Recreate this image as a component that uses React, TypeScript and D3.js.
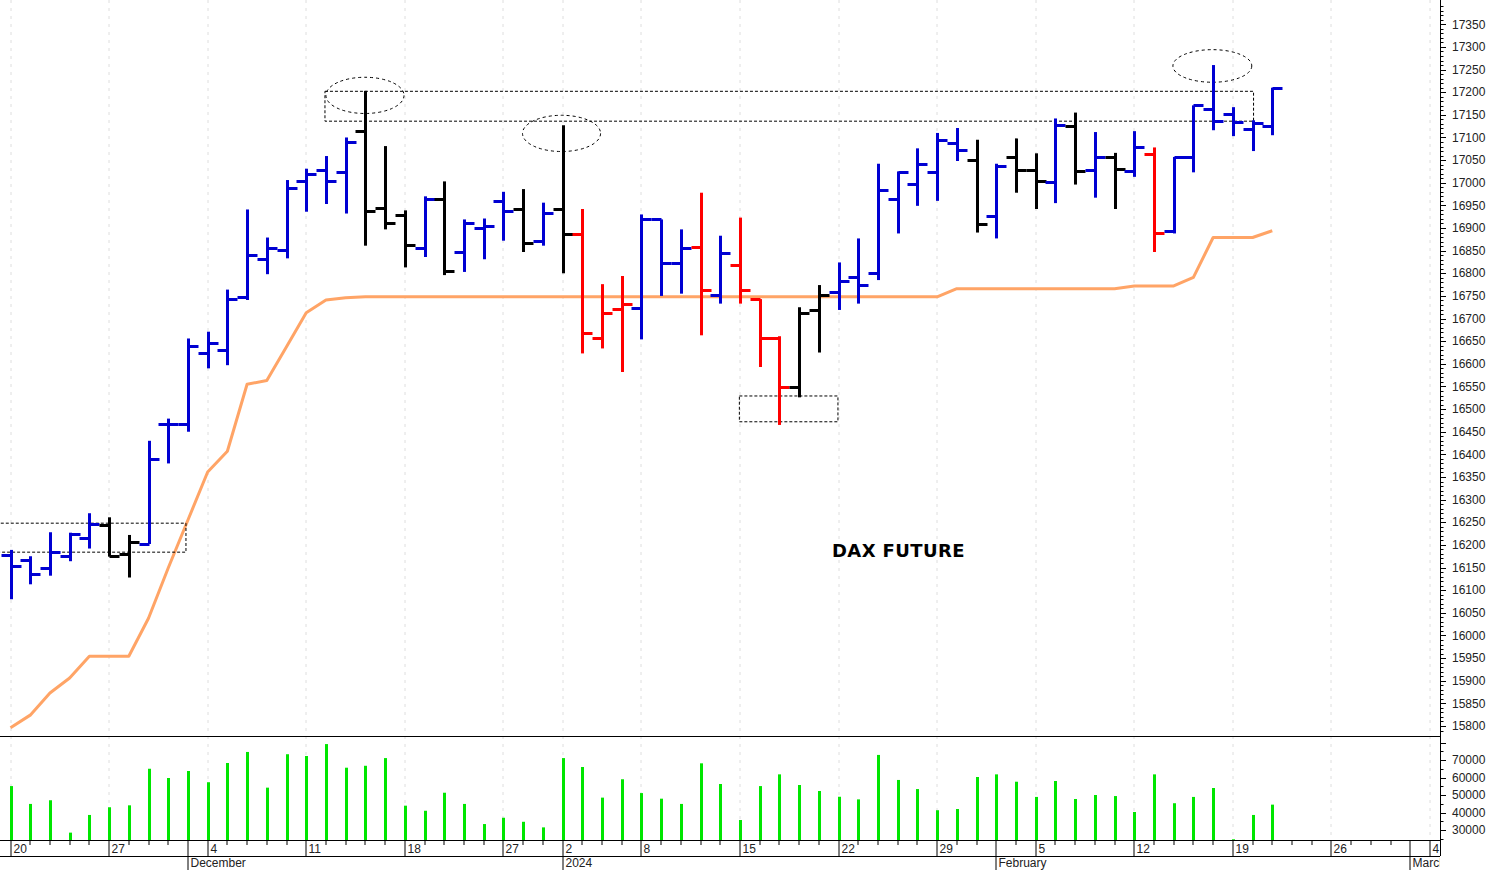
import React from "react";
import * as d3 from "d3";

// Trading-day categories (x axis)
const dates: string[] = [
  "2023-11-20","2023-11-21","2023-11-22","2023-11-23","2023-11-24",
  "2023-11-27","2023-11-28","2023-11-29","2023-11-30","2023-12-01",
  "2023-12-04","2023-12-05","2023-12-06","2023-12-07","2023-12-08",
  "2023-12-11","2023-12-12","2023-12-13","2023-12-14","2023-12-15",
  "2023-12-18","2023-12-19","2023-12-20","2023-12-21","2023-12-22",
  "2023-12-27","2023-12-28","2023-12-29",
  "2024-01-02","2024-01-03","2024-01-04","2024-01-05",
  "2024-01-08","2024-01-09","2024-01-10","2024-01-11","2024-01-12",
  "2024-01-15","2024-01-16","2024-01-17","2024-01-18","2024-01-19",
  "2024-01-22","2024-01-23","2024-01-24","2024-01-25","2024-01-26",
  "2024-01-29","2024-01-30","2024-01-31","2024-02-01","2024-02-02",
  "2024-02-05","2024-02-06","2024-02-07","2024-02-08","2024-02-09",
  "2024-02-12","2024-02-13","2024-02-14","2024-02-15","2024-02-16",
  "2024-02-19","2024-02-20","2024-02-21","2024-02-22","2024-02-23",
  "2024-02-26","2024-02-27","2024-02-28","2024-02-29","2024-03-01",
  "2024-03-04",
];

const opens = [16177,16166,16148,16176,16216,16244,16181,16203,16468,16467,16623,16630,16748,16831,16852,17003,17029,17023,17114,16944,16928,16856,16965,16847,16901,16960,16942,16871,16942,16886,16656,16722,16724,16919,16822,16858,16753,16818,16743,16658,16548,16719,16758,16792,16800,16965,16998,17023,17087,17051,16926,17057,17028,17002,17125,17028,17057,17025,17063,16894,17057,17164,17151,17118,17125];
const highs = [16189,16175,16228,16227,16270,16261,16222,16430,16479,16656,16671,16764,16941,16879,17006,17031,17059,17100,17203,17081,16939,16970,17003,16919,16921,16980,16986,16956,17127,16942,16776,16794,16930,16919,16897,16978,16883,16923,16743,16661,16725,16774,16824,16877,17042,17025,17076,17110,17121,17095,17042,17098,17065,17142,17155,17112,17066,17114,17078,17057,17171,17260,17167,17138,17210];
const lows = [16080,16113,16132,16164,16192,16174,16128,16202,16380,16450,16590,16597,16741,16798,16833,16936,16953,16932,16861,16897,16813,16836,16796,16803,16831,16872,16847,16861,16800,16623,16634,16582,16654,16750,16755,16663,16733,16733,16593,16465,16526,16625,16719,16733,16785,16888,16949,16960,17048,16890,16877,16978,16942,16955,16996,16967,16942,17013,16847,16888,17023,17116,17103,17070,17105];
const closes = [16153,16136,16185,16225,16247,16175,16206,16389,16467,16640,16645,16744,16840,16855,16989,17020,17003,17090,16938,16910,16862,16963,16805,16912,16904,16937,16866,16934,16886,16668,16713,16733,16919,16822,16855,16763,16844,16764,16656,16548,16713,16752,16783,16774,16985,17024,17041,17095,17072,16908,17037,17028,17003,17127,17025,17057,17031,17078,16889,17056,17171,17137,17134,17132,17210];
// B = blue, K = black, R = red
const barColors = "BBBBBKKBBBBBBBBBBBKKKBKBBBKBKRRRBBBRBRRRKKBBBBBBBKBKKBKBKBRBBBBBB".split("");
const volumes = [55100,44900,47000,28500,38600,43000,44100,65000,59700,63700,57300,68300,74600,54200,73300,72300,79100,65600,66700,71100,43900,41000,51300,44900,33400,37000,34700,31500,71100,66000,48500,59000,51100,47900,44900,68100,56300,35700,55100,61800,55700,52300,49000,47500,72900,58600,53400,41300,42000,60300,61800,57600,48900,58000,47700,50000,49400,40300,61800,45300,48900,54000,24700,38600,44500];
const stopLine = [15796,15824,15873,15906,15954,15954,15954,16038,16149,16255,16361,16407,16555,16563,16638,16713,16741,16746,16748,16748,16748,16748,16748,16748,16748,16748,16748,16748,16748,16748,16748,16748,16748,16748,16748,16748,16748,16748,16748,16748,16748,16748,16748,16748,16748,16748,16748,16748,16766,16766,16766,16766,16766,16766,16766,16766,16766,16772,16772,16772,16791,16879,16879,16879,16894];

// Annotations in data units (day index, price)
const zoneBoxes = [
  { from: -1, to: 8.9, lo: 16184, hi: 16248 },
  { from: 15.95, to: 63.05, lo: 17136, hi: 17202 },
  { from: 36.97, to: 41.97, lo: 16472, hi: 16529 },
];
const rings = [
  { at: 17.98, price: 17193, dx: 1.98, dp: 40 },
  { at: 27.95, price: 17109, dx: 1.98, dp: 40 },
  { at: 60.96, price: 17258, dx: 2.0, dp: 36 },
];
const chartTitle = "DAX FUTURE";
const priceTicks = d3.range(15800, 17351, 50);
const volumeLabels = [30000, 40000, 50000, 60000, 70000];
const monthNames = ["January","February","March","April","May","June","July","August","September","October","November","December"];

const W = 1488, H = 870;
const AX = 1440;
const PRICE_BOTTOM = 737, VOL_BOTTOM = 840, ROW1 = 856, ROW2 = 870;
const colorMap: Record<string, string> = { B: "#0000d2", K: "#000000", R: "#ff0000" };
const FONT = "'Liberation Sans', Arial, sans-serif";

export default function App() {
  const x = d3.scaleLinear().domain([0, dates.length - 1]).range([10.5, 1430]);
  const y = d3.scaleLinear().domain([15800, 17350]).range([726, 24.3]);
  const yv = d3.scaleLinear().domain([30000, 70000]).range([830, 760]);
  const px = (i: number) => Math.round(x(i)) + 0.5;

  const parsed = dates.map((d) => new Date(d + "T00:00:00"));
  const weekStart = parsed.map((d, i) => i === 0 || d.getDay() < parsed[i - 1].getDay() || (d.getTime() - parsed[i - 1].getTime()) > 3.5 * 864e5);
  const monthStart = parsed.map((d, i) => i > 0 && d.getMonth() !== parsed[i - 1].getMonth());

  const line = d3.line<number>().x((_, i) => x(i)).y((v) => y(v));

  const minorPrice = d3.range(15750, 17400, 10);
  const minorVol = d3.range(25000, 82000, 5000);

  return (
    <svg width={W} height={H} style={{ position: "absolute", left: 0, top: 0, display: "block", background: "#fff" }}>
      <defs>
        <clipPath id="pc"><rect x={0} y={0} width={AX} height={PRICE_BOTTOM} /></clipPath>
        <clipPath id="dc"><rect x={0} y={VOL_BOTTOM} width={AX} height={H - VOL_BOTTOM} /></clipPath>
      </defs>
      <rect x={0} y={0} width={W} height={H} fill="#fff" />
      {/* gridlines */}
      {dates.map((d, i) => weekStart[i] ? (
        <line key={"g" + d} x1={px(i) - 0.5} x2={px(i) - 0.5} y1={0} y2={VOL_BOTTOM} stroke="#dedede" strokeDasharray="3,5" />
      ) : null)}

      {/* price panel */}
      <g clipPath="url(#pc)">
        <path d={line(stopLine) || ""} fill="none" stroke="#ffa466" strokeWidth={3} strokeLinejoin="round" />
        {zoneBoxes.map((b, k) => (
          <rect key={"z" + k} x={x(b.from)} y={y(b.hi)} width={x(b.to) - x(b.from)} height={y(b.lo) - y(b.hi)} fill="none" stroke="#000" strokeWidth={1} strokeDasharray="3,2" />
        ))}
        {rings.map((r, k) => (
          <ellipse key={"r" + k} cx={x(r.at)} cy={y(r.price)} rx={x(r.dx) - x(0)} ry={y(r.price - r.dp) - y(r.price)} fill="none" stroke="#000" strokeWidth={1} strokeDasharray="3,3" />
        ))}
        {opens.map((o, i) => {
          const c = colorMap[barColors[i]];
          const cx = px(i);
          return (
            <g key={"b" + i} stroke={c} strokeWidth={3}>
              <line x1={cx} x2={cx} y1={y(highs[i])} y2={y(lows[i])} />
              <line x1={cx - 10} x2={cx} y1={Math.round(y(o)) + 0.5} y2={Math.round(y(o)) + 0.5} />
              <line x1={cx} x2={cx + 10} y1={Math.round(y(closes[i])) + 0.5} y2={Math.round(y(closes[i])) + 0.5} />
            </g>
          );
        })}
        <text x={898.5} y={557} textAnchor="middle" fontFamily="'DejaVu Sans', Verdana, sans-serif" fontWeight="bold" fontSize={18} letterSpacing={0.4} fill="#000">{chartTitle}</text>
      </g>

      {/* volume panel */}
      {volumes.map((v, i) => (
        <line key={"v" + i} x1={px(i)} x2={px(i)} y1={yv(v)} y2={VOL_BOTTOM} stroke="#00e600" strokeWidth={3} />
      ))}

      {/* panel frames */}
      <line x1={0} x2={AX} y1={PRICE_BOTTOM - 0.5} y2={PRICE_BOTTOM - 0.5} stroke="#000" />
      <line x1={0} x2={AX} y1={VOL_BOTTOM + 0.5} y2={VOL_BOTTOM + 0.5} stroke="#000" />
      <line x1={0} x2={AX} y1={ROW1 + 0.5} y2={ROW1 + 0.5} stroke="#000" />
      <line x1={AX + 0.5} x2={AX + 0.5} y1={0} y2={ROW1} stroke="#000" />

      {/* price axis */}
      {minorPrice.map((v) => y(v) > 2 && y(v) < PRICE_BOTTOM - 2 ? (
        <line key={"mp" + v} x1={AX} x2={v % 50 === 0 ? AX + 6 : AX + 3.5} y1={Math.round(y(v)) + 0.5} y2={Math.round(y(v)) + 0.5} stroke="#000" />
      ) : null)}
      {priceTicks.map((v) => (
        <text key={"pt" + v} x={1452} y={y(v)} dy="0.35em" fontFamily={FONT} fontSize={12} fill="#222">{v}</text>
      ))}

      {/* volume axis */}
      {minorVol.map((v) => yv(v) > PRICE_BOTTOM + 2 && yv(v) < VOL_BOTTOM - 1 ? (
        <line key={"mv" + v} x1={AX} x2={v % 10000 === 0 ? AX + 6 : AX + 3.5} y1={Math.round(yv(v)) + 0.5} y2={Math.round(yv(v)) + 0.5} stroke="#000" />
      ) : null)}
      {volumeLabels.map((v) => (
        <text key={"vt" + v} x={1452} y={yv(v)} dy="0.35em" fontFamily={FONT} fontSize={12} fill="#222">{v}</text>
      ))}

      {/* date axis */}
      <g clipPath="url(#dc)">
        {dates.map((d, i) => {
          const cx = px(i) - 0.5;
          if (monthStart[i]) return <line key={"t" + d} x1={cx} x2={cx} y1={VOL_BOTTOM} y2={ROW2} stroke="#000" />;
          if (weekStart[i]) return <line key={"t" + d} x1={cx} x2={cx} y1={VOL_BOTTOM} y2={ROW1} stroke="#000" />;
          return <line key={"t" + d} x1={cx} x2={cx} y1={VOL_BOTTOM} y2={VOL_BOTTOM + 5} stroke="#000" />;
        })}
        {dates.map((d, i) => weekStart[i] ? (
          <text key={"wl" + d} x={px(i) + 2} y={853} fontFamily={FONT} fontSize={12} fill="#222">{parsed[i].getDate()}</text>
        ) : null)}
        {dates.map((d, i) => monthStart[i] ? (
          <text key={"ml" + d} x={px(i) + 2} y={867} fontFamily={FONT} fontSize={12} fill="#222">
            {parsed[i].getMonth() === 0 ? String(parsed[i].getFullYear()) : monthNames[parsed[i].getMonth()]}
          </text>
        ) : null)}
      </g>
    </svg>
  );
}
